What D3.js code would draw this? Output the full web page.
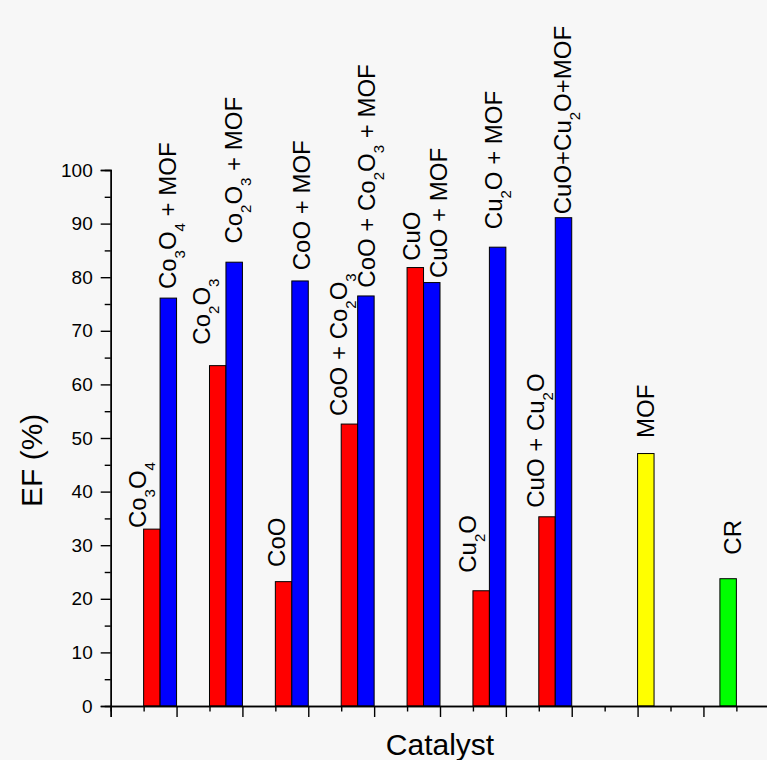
<!DOCTYPE html>
<html>
<head>
<meta charset="utf-8">
<script src="https://cdn.jsdelivr.net/npm/d3@7"></script>
<style>
  body { margin: 0; background: #f7f7f7; }
  svg text { font-family: "Liberation Sans", Arial, sans-serif; fill: #000; }
</style>
</head>
<body>
<script>
//Values
var oxideLabels = ["Co_3O_4", "Co_2O_3", "CoO", "CoO + Co_2O_3", "CuO", "Cu_2O", "CuO + Cu_2O"];
var mofLabels = ["Co_3O_4 + MOF", "Co_2O_3 + MOF", "CoO + MOF", "CoO + Co_2O_3 + MOF", "CuO + MOF", "Cu_2O + MOF", "CuO+Cu_2O+MOF"];
var oxideEF = [33.0, 63.5, 23.2, 52.6, 81.8, 21.5, 35.3];
var mofEF = [76.1, 82.8, 79.3, 76.5, 79.0, 85.6, 91.1];
var singleLabels = ["MOF", "CR"];
var singleEF = [47.1, 23.75];
var singleX = [16, 18.5];
var yTicks = [0, 10, 20, 30, 40, 50, 60, 70, 80, 90, 100];

//Label nudges (dx from bar right edge, gap above bar), px
var oxideNudge = [[-13.6, 2], [-16, 22], [-6.7, 15.7], [-10.3, 9], [-3.3, 7.7], [-13.3, 19], [-11, 10]];
var mofNudge = [[-0.7, 10], [0, 19.6], [1.7, 11.7], [0.7, 9.3], [7.3, 5.6], [-3.4, 19], [-0.9, 4.4]];
var singleNudge = [[0, 16.6], [4.3, 25]];

var w = 767;
var h = 760;

var svg = d3.select("body")
            .append("svg")
            .attr("width", w)
            .attr("height", h);

svg.append("rect")
    .attr("width", w)
    .attr("height", h)
    .attr("fill", "#f7f7f7");

var xScale = d3.scaleLinear().domain([0, 20]).range([110.7, 769.3]);
var yScale = d3.scaleLinear().domain([0, 100]).range([706, 170]);

//Bars
var bars = [];
oxideEF.forEach(function(v, i) {
    bars.push({x0: 1 + 2 * i, x1: 1.5 + 2 * i, v: v, color: "#ff0000", label: oxideLabels[i], nudge: oxideNudge[i]});
    bars.push({x0: 1.5 + 2 * i, x1: 2 + 2 * i, v: mofEF[i], color: "#0000ff", label: mofLabels[i], nudge: mofNudge[i]});
});
bars.push({x0: singleX[0], x1: singleX[0] + 0.5, v: singleEF[0], color: "#ffff00", label: singleLabels[0], nudge: singleNudge[0]});
bars.push({x0: singleX[1], x1: singleX[1] + 0.5, v: singleEF[1], color: "#00ff00", label: singleLabels[1], nudge: singleNudge[1]});

svg.selectAll("rect.bar")
    .data(bars)
    .enter()
    .append("rect")
    .attr("class", "bar")
    .attr("x", function(d) { return xScale(d.x0); })
    .attr("y", function(d) { return yScale(d.v); })
    .attr("width", function(d) { return xScale(d.x1) - xScale(d.x0); })
    .attr("height", function(d) { return yScale(0) - yScale(d.v); })
    .attr("fill", function(d) { return d.color; })
    .attr("stroke", "#000")
    .attr("stroke-width", 1);

//Rotated labels with subscripts
var labels = svg.selectAll("text.lbl")
    .data(bars)
    .enter()
    .append("text")
    .attr("class", "lbl")
    .attr("font-size", 24)
    .attr("transform", function(d) {
        var x = xScale(d.x1) + d.nudge[0];
        var y = yScale(d.v) - d.nudge[1] + 1;
        return "translate(" + x + "," + y + ") rotate(-90)";
    });

labels.each(function(d) {
    var t = d3.select(this);
    var parts = d.label.split(/(_\d)/);
    parts.forEach(function(p) {
        if (p === "") return;
        if (p.charAt(0) === "_") {
            t.append("tspan").attr("font-size", 15).attr("dy", 9).text(p.slice(1));
        } else {
            var s = t.append("tspan").text(p);
            if (t.selectAll("tspan").size() > 1 && t.attr("data-sub") === "1") s.attr("dy", -9);
        }
        t.attr("data-sub", p.charAt(0) === "_" ? "1" : "0");
    });
});

//Y axis
var yAxis = d3.axisLeft(yScale).tickValues(yTicks).tickSize(10).tickPadding(8);
var yMinor = d3.axisLeft(yScale).tickValues(d3.range(5, 100, 10)).tickSize(6).tickFormat("");

var gy = svg.append("g")
    .attr("transform", "translate(" + xScale(0) + ",0)")
    .call(yAxis);
gy.selectAll("text").attr("font-size", 19).attr("font-family", "Liberation Sans, Arial, sans-serif");
svg.append("g")
    .attr("transform", "translate(" + xScale(0) + ",0)")
    .call(yMinor);

//X axis (ticks only)
var xAxis = d3.axisBottom(xScale).tickValues(d3.range(0, 21, 2)).tickSize(11).tickFormat("");
var xMinor = d3.axisBottom(xScale).tickValues(d3.range(1, 20, 2)).tickSize(5.5).tickFormat("");

svg.append("g")
    .attr("transform", "translate(0," + yScale(0) + ")")
    .call(xAxis);
svg.append("g")
    .attr("transform", "translate(0," + yScale(0) + ")")
    .call(xMinor);

svg.selectAll(".domain").attr("stroke", "#000").attr("stroke-width", 1.4);
svg.selectAll(".tick line").attr("stroke", "#000").attr("stroke-width", 1.4);

//Axis titles
svg.append("text")
    .attr("font-size", 30)
    .attr("text-anchor", "start")
    .attr("transform", "translate(41.7,507) rotate(-90)")
    .text("EF (%)");

svg.append("text")
    .attr("font-size", 30)
    .attr("text-anchor", "middle")
    .attr("x", 440)
    .attr("y", 755)
    .text("Catalyst");
</script>
</body>
</html>
